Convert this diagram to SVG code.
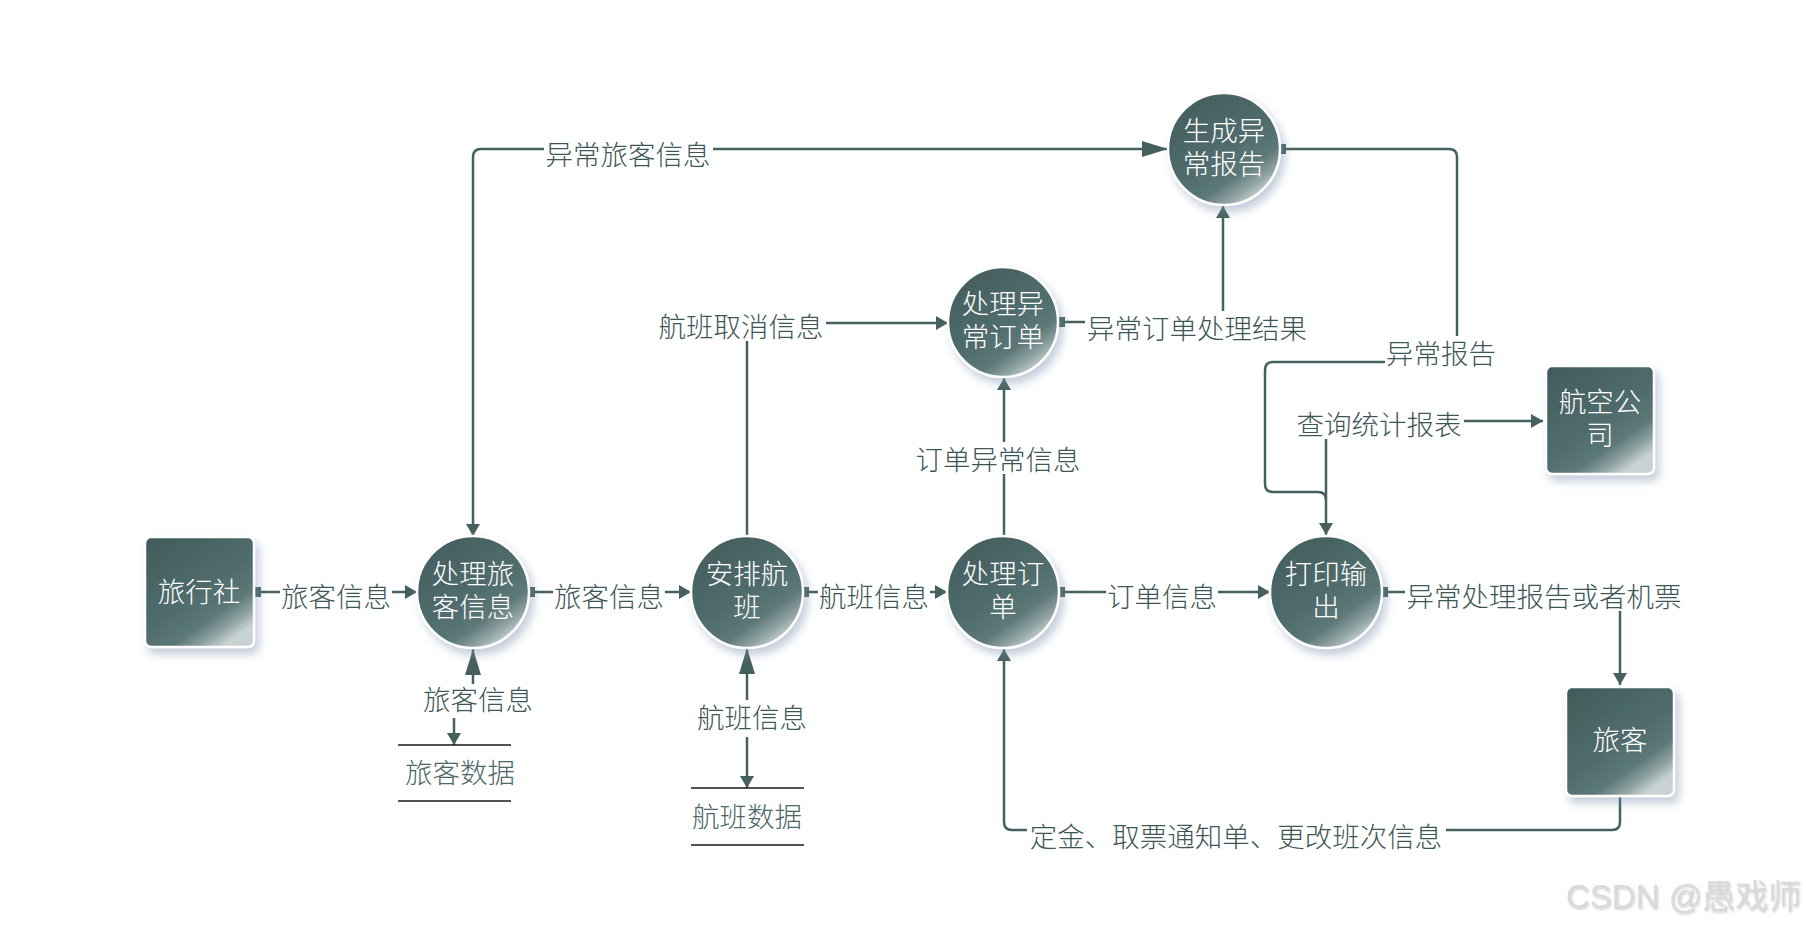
<svg xmlns="http://www.w3.org/2000/svg" width="1806" height="929" viewBox="0 0 1806 929">
<style>
.ln{fill:none;stroke:#46605f;stroke-width:2.5}
.lb{font-family:"Noto Sans CJK SC","Noto Sans",sans-serif;font-weight:300;font-size:27.5px;fill:#3f5657;text-anchor:middle;dominant-baseline:central}
.bg{fill:#ffffff}
.nt{font-family:"Noto Sans CJK SC","Noto Sans",sans-serif;font-weight:300;font-size:27.5px;fill:#ffffff;text-anchor:middle;dominant-baseline:central}
.nd{fill:url(#g);stroke:#ffffff;stroke-width:2.5;filter:url(#sh)}
.st{stroke:#1a1a1a;stroke-width:1.5}
.sl{font-family:"Noto Sans CJK SC","Noto Sans",sans-serif;font-weight:300;font-size:27.5px;fill:#4d6868;text-anchor:middle;dominant-baseline:central}
</style>
<defs>
<linearGradient id="g" x1="0" y1="0" x2="0.7" y2="1">
<stop offset="0" stop-color="#415a5b"/>
<stop offset="0.6" stop-color="#516d6d"/>
<stop offset="0.78" stop-color="#5d7878"/>
<stop offset="0.9" stop-color="#8fa2a2"/>
<stop offset="1" stop-color="#c9d2d2"/>
</linearGradient>
<filter id="sh" x="-30%" y="-30%" width="170%" height="170%">
<feDropShadow dx="4" dy="6" stdDeviation="5" flood-color="#7d8fb0" flood-opacity="0.45"/>
</filter>
<filter id="wm" x="-10%" y="-30%" width="120%" height="160%">
<feDropShadow dx="1" dy="1.5" stdDeviation="1" flood-color="#9a9a9a" flood-opacity="0.5"/>
</filter>
<marker id="arr" viewBox="0 0 12 14" refX="12" refY="7" markerWidth="12" markerHeight="14" markerUnits="userSpaceOnUse" orient="auto"><path d="M0,0 L12,7 L0,14 z" fill="#46605f"/></marker>
<marker id="arrR" viewBox="0 0 12 14" refX="12" refY="7" markerWidth="12" markerHeight="14" markerUnits="userSpaceOnUse" orient="auto-start-reverse"><path d="M0,0 L12,7 L0,14 z" fill="#46605f"/></marker>
<marker id="big" viewBox="0 0 26 16" refX="26" refY="8" markerWidth="26" markerHeight="16" markerUnits="userSpaceOnUse" orient="auto"><path d="M0,0 L26,8 L0,16 z" fill="#46605f"/></marker>
<marker id="sq" viewBox="0 0 7 10" refX="0" refY="5" markerWidth="7" markerHeight="10" markerUnits="userSpaceOnUse" orient="auto"><rect width="7" height="10" fill="#46605f"/></marker>
</defs>
<rect width="1806" height="929" fill="#ffffff"/>

<g id="connectors">
<path class="ln" d="M254,592 H417" marker-start="url(#sq)" marker-end="url(#arr)"/>
<path class="ln" d="M528,592 H691" marker-start="url(#sq)" marker-end="url(#arr)"/>
<path class="ln" d="M802,592 H947" marker-start="url(#sq)" marker-end="url(#arr)"/>
<path class="ln" d="M1058,592 H1270" marker-start="url(#sq)" marker-end="url(#arr)"/>
<path class="ln" d="M1381,592 H1612 Q1620,592 1620,600 V685" marker-start="url(#sq)" marker-end="url(#arr)"/>
<path class="ln" d="M1620,796 V822 Q1620,830 1612,830 H1012 Q1004,830 1004,822 V649" marker-end="url(#arr)"/>
<path class="ln" d="M473,536 V157 Q473,149 481,149 H1168" marker-start="url(#arrR)" marker-end="url(#big)"/>
<path class="ln" d="M747,536 V331 Q747,323 755,323 H948" marker-end="url(#arr)"/>
<path class="ln" d="M1004,536 V378" marker-end="url(#arr)"/>
<path class="ln" d="M1058,322 H1215 Q1223,322 1223,314 V206" marker-start="url(#sq)" marker-end="url(#arr)"/>
<path class="ln" d="M1279,149 H1449 Q1457,149 1457,157 V362 H1273 Q1265,362 1265,370 V484 Q1265,492 1273,492 H1318 Q1326,492 1326,500 V535" marker-start="url(#sq)" marker-end="url(#arr)"/>
<path class="ln" d="M1326,500 V429 Q1326,421 1334,421 H1543" marker-end="url(#arr)"/>
<path class="ln" d="M473,684 V649" marker-end="url(#big)"/>
<path class="ln" d="M454,718 V745" marker-end="url(#arr)"/>
<path class="ln" d="M747,700 V648" marker-end="url(#big)"/>
<path class="ln" d="M747,737 V788" marker-end="url(#arr)"/>

<g id="labels">
<rect class="bg" x="280" y="579" width="112" height="32"/><text class="lb" x="336" y="595">旅客信息</text>
<rect class="bg" x="553" y="579" width="112" height="32"/><text class="lb" x="609" y="595">旅客信息</text>
<rect class="bg" x="818" y="579" width="112" height="32"/><text class="lb" x="874" y="595">航班信息</text>
<rect class="bg" x="1106" y="579" width="112" height="32"/><text class="lb" x="1162" y="595">订单信息</text>
<rect class="bg" x="1405" y="579" width="278" height="32"/><text class="lb" x="1544" y="595">异常处理报告或者机票</text>
<rect class="bg" x="1027" y="819" width="419" height="32"/><text class="lb" x="1236" y="835">定金、取票通知单、更改班次信息</text>
<rect class="bg" x="544" y="137" width="169" height="32"/><text class="lb" x="628" y="153">异常旅客信息</text>
<rect class="bg" x="657" y="309" width="169" height="32"/><text class="lb" x="741" y="325">航班取消信息</text>
<rect class="bg" x="913" y="442" width="169" height="32"/><text class="lb" x="998" y="458">订单异常信息</text>
<rect class="bg" x="1085" y="311" width="225" height="32"/><text class="lb" x="1197" y="327">异常订单处理结果</text>
<rect class="bg" x="1385" y="336" width="112" height="32"/><text class="lb" x="1441" y="352">异常报告</text>
<rect class="bg" x="1295" y="407" width="169" height="32"/><text class="lb" x="1379" y="423">查询统计报表</text>
<text class="lb" x="478" y="698">旅客信息</text>
<text class="lb" x="752" y="716">航班信息</text>
</g>
</g>

<g id="n-lxs"><rect class="nd" x="145" y="537" width="109" height="110" rx="6"/><text class="nt" x="199" y="590">旅行社</text></g>
<g id="n-hkgs"><rect class="nd" x="1546" y="366" width="108" height="108" rx="6"/><text class="nt"><tspan x="1600" y="400">航空公</tspan><tspan x="1600" y="433">司</tspan></text></g>
<g id="n-lk"><rect class="nd" x="1566" y="687" width="108" height="109" rx="6"/><text class="nt" x="1620" y="738">旅客</text></g>

<g id="p-clxk"><circle class="nd" cx="473" cy="592" r="56"/><text class="nt"><tspan x="473" y="572">处理旅</tspan><tspan x="473" y="605">客信息</tspan></text></g>
<g id="p-aphb"><circle class="nd" cx="747" cy="592" r="56"/><text class="nt"><tspan x="747" y="572">安排航</tspan><tspan x="747" y="605">班</tspan></text></g>
<g id="p-cldd"><circle class="nd" cx="1003" cy="592" r="56"/><text class="nt"><tspan x="1003" y="572">处理订</tspan><tspan x="1003" y="605">单</tspan></text></g>
<g id="p-dysc"><circle class="nd" cx="1326" cy="592" r="56"/><text class="nt"><tspan x="1326" y="572">打印输</tspan><tspan x="1326" y="605">出</tspan></text></g>
<g id="p-clycdd"><circle class="nd" cx="1003" cy="322" r="55"/><text class="nt"><tspan x="1003" y="302">处理异</tspan><tspan x="1003" y="335">常订单</tspan></text></g>
<g id="p-scycbg"><circle class="nd" cx="1224" cy="149" r="56"/><text class="nt"><tspan x="1224" y="129">生成异</tspan><tspan x="1224" y="162">常报告</tspan></text></g>

<g id="s-lksj"><line class="st" x1="398" y1="745" x2="511" y2="745"/><line class="st" x1="398" y1="801" x2="511" y2="801"/><text class="sl" x="460" y="771">旅客数据</text></g>
<g id="s-hbsj"><line class="st" x1="691" y1="788" x2="804" y2="788"/><line class="st" x1="691" y1="845" x2="804" y2="845"/><text class="sl" x="747" y="815">航班数据</text></g>

<text x="1566" y="908" font-family="'Liberation Sans','Noto Sans CJK SC',sans-serif" font-size="33" fill="#dadada" filter="url(#wm)">CSDN @愚戏师</text>
</svg>
